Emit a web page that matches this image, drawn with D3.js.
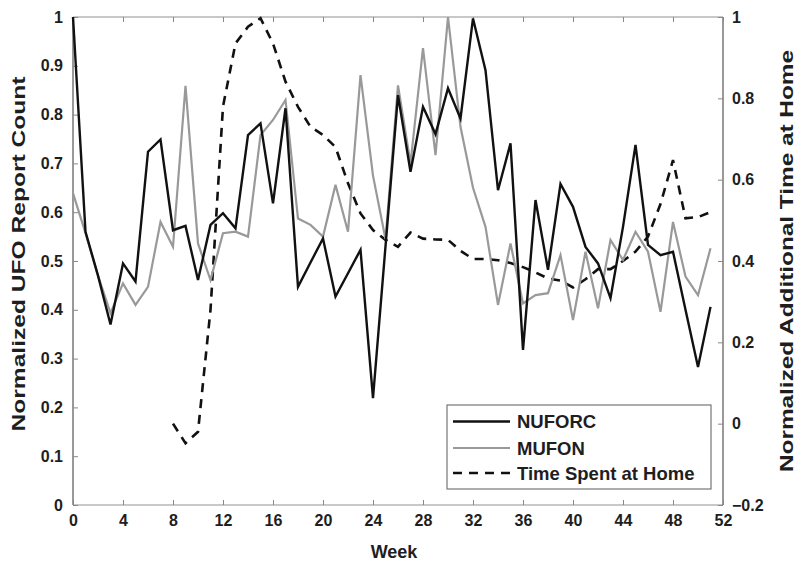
<!DOCTYPE html>
<html><head><meta charset="utf-8">
<script src="https://d3js.org/d3.v7.min.js"></script>
<style>body{margin:0;background:#fff}</style>
</head><body>
<svg id="c" width="800" height="563"></svg>
<script>
const weeks = d3.range(0, 52);
const nuforc = [1.0,0.56,0.47,0.37,0.495,0.458,0.724,0.749,0.563,0.572,0.461,0.574,0.598,0.567,0.758,0.782,0.618,0.813,0.447,0.497,0.546,0.427,0.475,0.523,0.219,0.53,0.84,0.683,0.816,0.76,0.854,0.792,0.997,0.891,0.645,0.741,0.318,0.625,0.482,0.658,0.611,0.529,0.495,0.424,0.57,0.738,0.533,0.512,0.519,0.40,0.283,0.406];
const mufon = [0.639,0.557,0.47,0.393,0.454,0.41,0.447,0.58,0.529,0.859,0.536,0.461,0.557,0.56,0.55,0.758,0.789,0.83,0.587,0.574,0.55,0.656,0.56,0.881,0.675,0.545,0.86,0.70,0.936,0.717,1.0,0.775,0.65,0.57,0.41,0.536,0.413,0.43,0.434,0.512,0.379,0.519,0.403,0.543,0.502,0.56,0.519,0.396,0.58,0.468,0.43,0.526];
const homeWeeks = d3.range(8, 52);
const home = [0.0,-0.048,-0.02,0.28,0.78,0.935,0.976,0.997,0.935,0.841,0.779,0.73,0.71,0.68,0.591,0.517,0.476,0.452,0.435,0.47,0.455,0.453,0.452,0.425,0.405,0.405,0.402,0.395,0.385,0.372,0.357,0.352,0.335,0.355,0.38,0.38,0.40,0.423,0.46,0.54,0.648,0.505,0.508,0.52];
const xTicks = d3.range(0, 53, 4);
const yLeftTicks = d3.range(0, 11).map(d => d / 10);
const yRightTicks = [-0.2, 0, 0.2, 0.4, 0.6, 0.8, 1];
const legendLabels = ["NUFORC", "MUFON", "Time Spent at Home"];

const L = 73, R = 723, T = 17, B = 505;
const svg = d3.select("#c");
const x = d3.scaleLinear().domain([0, 52]).range([L, R]);
const yL = d3.scaleLinear().domain([0, 1]).range([B, T]);
const yR = d3.scaleLinear().domain([-0.2, 1]).range([B, T]);
const font = "'Liberation Sans', Arial, sans-serif";
const txt = "#1e1e1e";

// frame
svg.append("line").attr("x1", L).attr("x2", R).attr("y1", T).attr("y2", T).attr("stroke", "#c8c8c8").attr("stroke-width", 2);
svg.append("line").attr("x1", L).attr("x2", R).attr("y1", B).attr("y2", B).attr("stroke", "#c8c8c8").attr("stroke-width", 2);
svg.append("line").attr("x1", L).attr("x2", L).attr("y1", T).attr("y2", B).attr("stroke", "#777").attr("stroke-width", 1.5);
svg.append("line").attr("x1", R).attr("x2", R).attr("y1", T).attr("y2", B).attr("stroke", "#777").attr("stroke-width", 1.5);

function styleTicks(g) {
  g.select(".domain").remove();
  g.selectAll("line").attr("stroke", "#888");
  g.selectAll("text").attr("font-family", font).attr("font-weight", "bold").attr("font-size", 16).attr("fill", txt);
}
const fmt = d => Math.abs(d) < 1e-9 ? "0" : d === 1 ? "1" : d3.format(".1f")(d);

styleTicks(svg.append("g").attr("transform", `translate(0,${B})`)
  .call(d3.axisBottom(x).tickValues(xTicks).tickSizeInner(-5).tickSizeOuter(0).tickPadding(10)));
styleTicks(svg.append("g").attr("transform", `translate(0,${T})`)
  .call(d3.axisTop(x).tickValues(xTicks).tickSizeInner(-5).tickSizeOuter(0).tickFormat("")));
styleTicks(svg.append("g").attr("transform", `translate(${L},0)`)
  .call(d3.axisLeft(yL).tickValues(yLeftTicks).tickSizeInner(-5).tickSizeOuter(0).tickPadding(10).tickFormat(fmt)));
styleTicks(svg.append("g").attr("transform", `translate(${R},0)`)
  .call(d3.axisRight(yR).tickValues(yRightTicks).tickSizeInner(-5).tickSizeOuter(0).tickPadding(9).tickFormat(fmt)));

// lines
const lineL = d3.line().x((d, i) => x(weeks[i])).y(d => yL(d));
const lineH = d3.line().x((d, i) => x(homeWeeks[i])).y(d => yR(d));
svg.append("path").datum(home).attr("d", lineH).attr("fill", "none").attr("stroke", "#111").attr("stroke-width", 2.6).attr("stroke-dasharray", "9,7");
svg.append("path").datum(mufon).attr("d", lineL).attr("fill", "none").attr("stroke", "#999").attr("stroke-width", 2.2);
svg.append("path").datum(nuforc).attr("d", lineL).attr("fill", "none").attr("stroke", "#111").attr("stroke-width", 2.4);

// axis titles
svg.append("text").attr("x", 394).attr("y", 558).attr("text-anchor", "middle")
  .attr("font-family", font).attr("font-weight", "bold").attr("font-size", 18).attr("fill", txt).text("Week");
svg.append("text").attr("transform", `translate(25,254) rotate(-90)`).attr("text-anchor", "middle")
  .attr("font-family", font).attr("font-weight", "bold").attr("font-size", 19).attr("fill", txt)
  .attr("textLength", 355).attr("lengthAdjust", "spacingAndGlyphs").text("Normalized UFO Report Count");
svg.append("text").attr("transform", `translate(793,261) rotate(-90)`).attr("text-anchor", "middle")
  .attr("font-family", font).attr("font-weight", "bold").attr("font-size", 19).attr("fill", txt)
  .attr("textLength", 422).attr("lengthAdjust", "spacingAndGlyphs").text("Normalized Additional Time at Home");

// legend
const lg = svg.append("g");
lg.append("rect").attr("x", 447).attr("y", 405).attr("width", 264).attr("height", 84).attr("fill", "#fff").attr("stroke", "#777").attr("stroke-width", 1.2);
const styles = [{c: "#111", w: 2.4, d: null}, {c: "#999", w: 2.2, d: null}, {c: "#111", w: 2.6, d: "9,7"}];
const rowsY = [421.5, 448, 473];
legendLabels.forEach((lab, i) => {
  const yy = rowsY[i];
  const ln = lg.append("line").attr("x1", 453).attr("x2", 510).attr("y1", yy).attr("y2", yy)
    .attr("stroke", styles[i].c).attr("stroke-width", styles[i].w);
  if (styles[i].d) ln.attr("stroke-dasharray", styles[i].d);
  lg.append("text").attr("x", 517).attr("y", yy + 6.5).attr("font-family", font).attr("font-weight", "bold")
    .attr("font-size", 18.5).attr("fill", txt).text(lab);
});
</script>
</body></html>
